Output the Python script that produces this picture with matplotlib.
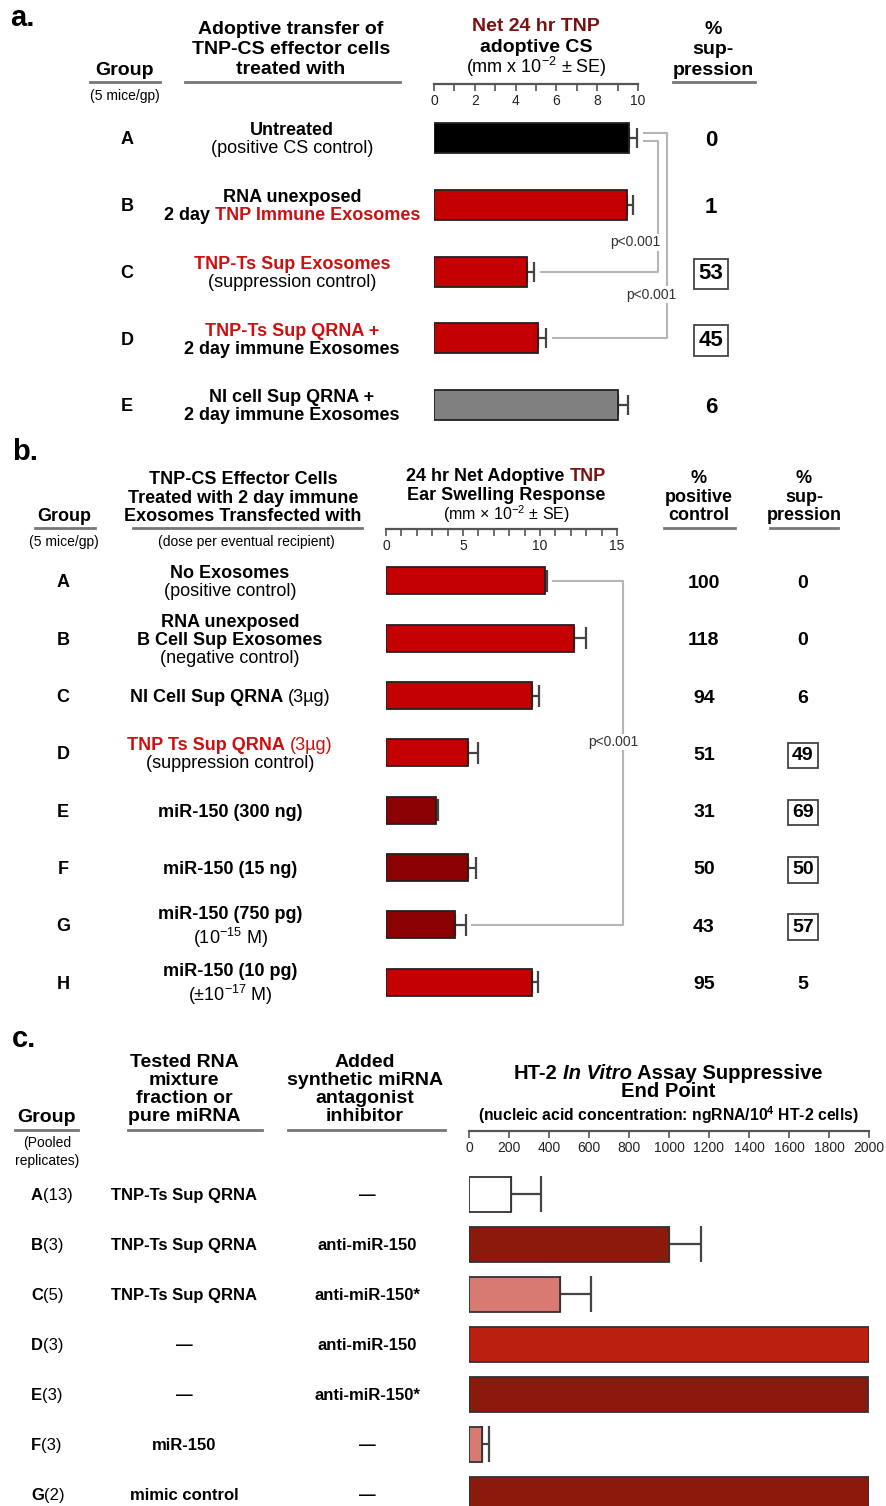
import matplotlib
matplotlib.use('Agg')
import matplotlib.pyplot as plt
from matplotlib.lines import Line2D

plt.rcParams['font.family'] = ['Liberation Sans', 'DejaVu Sans']
plt.rcParams['mathtext.fontset'] = 'custom'
plt.rcParams['mathtext.rm'] = 'Liberation Sans'
plt.rcParams['mathtext.it'] = 'Liberation Sans:italic'
plt.rcParams['mathtext.bf'] = 'Liberation Sans:bold'

# ---------------- data ----------------
a_groups = ['A', 'B', 'C', 'D', 'E']
a_values = [9.55, 9.45, 4.55, 5.1, 9.0]
a_errors = [0.4, 0.3, 0.35, 0.4, 0.5]
a_supp = ['0', '1', '53', '45', '6']
a_boxed = [False, False, True, True, False]
a_colors = ['#000000', '#c40000', '#c40000', '#c40000', '#808080']
a_ticks = [0, 2, 4, 6, 8, 10]
a_labels = [
    [[('Untreated', 'b')], [('(positive CS control)', 'n')]],
    [[('RNA unexposed', 'b')], [('2 day ', 'b'), ('TNP Immune Exosomes', 'rb')]],
    [[('TNP-Ts Sup Exosomes', 'rb')], [('(suppression control)', 'n')]],
    [[('TNP-Ts Sup QRNA +', 'rb')], [('2 day immune Exosomes', 'b')]],
    [[('NI cell Sup QRNA +', 'b')], [('2 day immune Exosomes', 'b')]],
]

b_groups = ['A', 'B', 'C', 'D', 'E', 'F', 'G', 'H']
b_values = [10.3, 12.2, 9.5, 5.3, 3.25, 5.3, 4.5, 9.5]
b_errors = [0.15, 0.8, 0.45, 0.65, 0.15, 0.55, 0.7, 0.4]
b_pos_ctrl = ['100', '118', '94', '51', '31', '50', '43', '95']
b_supp = ['0', '0', '6', '49', '69', '50', '57', '5']
b_boxed = [False, False, False, True, True, True, True, False]
b_colors = ['#c40000', '#c40000', '#c40000', '#c40000', '#8b0000', '#8b0000', '#8b0000', '#c40000']
b_ticks = [0, 5, 10, 15]
b_labels = [
    [[('No Exosomes', 'b')], [('(positive control)', 'n')]],
    [[('RNA unexposed', 'b')], [('B Cell Sup Exosomes', 'b')], [('(negative control)', 'n')]],
    [[('NI Cell Sup QRNA', 'b'), (' (3µg)', 'n')]],
    [[('TNP Ts Sup QRNA', 'rb'), (' (3µg)', 'rn')], [('(suppression control)', 'n')]],
    [[('miR-150 (300 ng)', 'b')]],
    [[('miR-150 (15 ng)', 'b')]],
    [[('miR-150 (750 pg)', 'b')], [('(10$^{\\mathregular{-15}}$ M)', 'n')]],
    [[('miR-150 (10 pg)', 'b')], [('(±10$^{\\mathregular{-17}}$ M)', 'n')]],
]

c_groups = ['A', 'B', 'C', 'D', 'E', 'F', 'G']
c_reps = ['(13)', '(3)', '(5)', '(3)', '(3)', '(3)', '(2)']
c_rna = ['TNP-Ts Sup QRNA', 'TNP-Ts Sup QRNA', 'TNP-Ts Sup QRNA', '—', '—', 'miR-150', 'mimic control']
c_inhib = ['—', 'anti-miR-150', 'anti-miR-150*', 'anti-miR-150', 'anti-miR-150*', '—', '—']
c_values = [210, 1000, 455, 2000, 1995, 65, 2000]
c_errors = [150, 160, 155, 0, 0, 35, 0]
c_colors = ['#ffffff', '#8c1a0c', '#d77b72', '#ba1f10', '#8c1a0c', '#d77b72', '#8c1a0c']
c_ticks = list(range(0, 2001, 200))

# ---------------- figure ----------------
W, H = 887, 1506
DPI = 100
fig = plt.figure(figsize=(W / DPI, H / DPI), dpi=DPI)
R = fig.canvas.get_renderer()

RED = '#cc1010'
DRED = '#7a1212'
GREY_LINE = '#777777'
BRACKET = '#b5b5b5'

STYLES = {
    'b': dict(weight='bold', color='black'),
    'n': dict(weight='normal', color='black'),
    'rb': dict(weight='bold', color=RED),
    'rn': dict(weight='normal', color=RED),
    'drb': dict(weight='bold', color=DRED),
    'bi': dict(weight='bold', style='italic', color='black'),
}


def fx(x):
    return x / W


def fy(y):
    return 1 - y / H


def rich(x, y, segs, size=13, ha='center'):
    """segs: list of (text, stylekey); y = visual centre of capitals (px from top)."""
    em = size * DPI / 72.0
    base = y + 0.358 * em
    arts, widths = [], []
    for s, st in segs:
        kw = STYLES[st]
        core = s.strip(' ')
        lead = len(s) - len(s.lstrip(' '))
        trail = len(s) - len(s.rstrip(' '))
        t = fig.text(0, 0, core, fontsize=size, va='baseline', ha='left', **kw)
        w = t.get_window_extent(renderer=R).width if core else 0
        arts.append((t, lead * 0.278 * em))
        widths.append(w + (lead + trail) * 0.278 * em)
    total = sum(widths)
    x0 = x - total / 2 if ha == 'center' else x
    for (t, lead), w in zip(arts, widths):
        t.set_position((fx(x0 + lead), fy(base)))
        x0 += w


def line_text(x, y, s, size=13, st='b', ha='center', box=False):
    em = size * DPI / 72.0
    kw = dict(STYLES[st])
    t = fig.text(fx(x), fy(y + 0.358 * em), s, fontsize=size, va='baseline', ha=ha, **kw)
    if box:
        t.set_bbox(dict(boxstyle='square,pad=0.22', facecolor='white', edgecolor='#444444', linewidth=1.3))
    return t


def hline(x0, x1, y, color=GREY_LINE, lw=2.0):
    fig.add_artist(Line2D([fx(x0), fx(x1)], [fy(y), fy(y)], color=color, lw=lw, transform=fig.transFigure))


def label_block(x, yc, lines, sp=18, size=13):
    n = len(lines)
    if any('$' in s for ln in lines for s, _ in ln):
        sp = 25
    for k, ln in enumerate(lines):
        rich(x, yc + (k - (n - 1) / 2) * sp, ln, size=size)


def bar_axes(x0, x1, xlim, row0, step, top, bottom):
    ax = fig.add_axes([fx(x0), fy(bottom), (x1 - x0) / W, (bottom - top) / H])
    ax.set_xlim(*xlim)
    ax.set_ylim((bottom - row0) / step, (top - row0) / step)
    ax.axis('off')
    return ax


def ruler(x0, x1, xlim, y, majors, minors, size=10):
    ax = fig.add_axes([fx(x0), fy(y), (x1 - x0) / W, 1.0 / H])
    ax.set_xlim(*xlim)
    for s in ['top', 'left', 'right']:
        ax.spines[s].set_visible(False)
    ax.spines['bottom'].set_linewidth(1.6)
    ax.spines['bottom'].set_color('#555555')
    ax.patch.set_visible(False)
    ax.set_yticks([])
    ax.set_xticks(majors)
    ax.set_xticklabels([str(v) for v in majors])
    ax.set_xticks(minors, minor=True)
    ax.tick_params(axis='x', which='both', direction='out', length=5, width=1.2,
                   color='#555555', labelsize=size, pad=2, labelcolor='#222222')
    return ax


def draw_bars(ax, values, errors, colors, height, capsize, edge='#222222'):
    ys = list(range(len(values)))
    ax.barh(ys, values, height=height, color=colors, edgecolor=edge, linewidth=1.3, zorder=2)
    idx = [i for i, e in enumerate(errors) if e > 0]
    ax.errorbar([values[i] for i in idx], idx,
                xerr=[[0] * len(idx), [errors[i] for i in idx]],
                fmt='none', ecolor='#444444', elinewidth=1.6, capsize=capsize, capthick=1.6, zorder=1)


# ======================= panel a =======================
fig.text(fx(10), fy(16 + 0.358 * 29), 'a.', fontsize=21, weight='bold', va='baseline')
HS = 14
line_text(125, 68, 'Group', size=HS)
hline(90, 160, 82)
line_text(125, 95, '(5 mice/gp)', size=10, st='n')
for k, s in enumerate(['Adoptive transfer of', 'TNP-CS effector cells', 'treated with']):
    line_text(291, 27 + k * 20, s, size=HS)
hline(185, 400, 82)
line_text(536, 24, 'Net 24 hr TNP', size=HS, st='drb')
line_text(536, 45, 'adoptive CS', size=HS)
line_text(536, 67, '(mm x 10$^{\\mathregular{-2}}$ ± SE)', size=13, st='n')
for k, s in enumerate(['%', 'sup-', 'pression']):
    line_text(713, 27 + k * 20.5, s, size=HS)
hline(673, 755, 82)

ruler(434, 638, (0, 10), 84, a_ticks, [1, 3, 5, 7, 9], size=10)

A_ROW0, A_STEP = 138, 66.75
ax_a = bar_axes(434, 638, (0, 10), A_ROW0, A_STEP, 105, 435)
draw_bars(ax_a, a_values, a_errors, a_colors, 30 / A_STEP, 7)

for i, g in enumerate(a_groups):
    yc = A_ROW0 + i * A_STEP
    line_text(127, yc, g, size=13)
    label_block(292, yc, a_labels[i])
    line_text(711, yc, a_supp[i], size=16, box=a_boxed[i])

# significance brackets (panel a)
gap = 0.35
xA = a_values[0] + a_errors[0] + gap
xo, xi = 11.4, 11.0
ax_a.plot([xA, xo, xo, a_values[3] + a_errors[3] + gap], [-0.075, -0.075, 3, 3],
          color=BRACKET, lw=1.5, clip_on=False, zorder=0)
ax_a.plot([xA, xi, xi, a_values[2] + a_errors[2] + gap], [0.045, 0.045, 2, 2],
          color=BRACKET, lw=1.5, clip_on=False, zorder=0)
ax_a.text(9.85, 1.56, 'p<0.001', fontsize=10, ha='center', va='center', color='#333333',
          bbox=dict(facecolor='white', edgecolor='none', pad=1), clip_on=False, zorder=3)
ax_a.text(10.64, 2.35, 'p<0.001', fontsize=10, ha='center', va='center', color='#333333',
          bbox=dict(facecolor='white', edgecolor='none', pad=1), clip_on=False, zorder=3)

# ======================= panel b =======================
HB = 13
fig.text(fx(12), fy(450 + 0.358 * 29), 'b.', fontsize=21, weight='bold', va='baseline')
line_text(64, 515, 'Group', size=HB)
hline(35, 95, 528)
line_text(64, 541, '(5 mice/gp)', size=10, st='n')
for k, s in enumerate(['TNP-CS Effector Cells', 'Treated with 2 day immune', 'Exosomes Transfected with']):
    line_text(243, 478 + k * 18.5, s, size=HB)
hline(133, 362, 528)
line_text(246, 541, '(dose per eventual recipient)', size=10, st='n')
rich(506, 475, [('24 hr Net Adoptive ', 'b'), ('TNP', 'drb')], size=HB)
line_text(506, 494, 'Ear Swelling Response', size=HB)
line_text(506, 514, '(mm × 10$^{\\mathregular{-2}}$ ± SE)', size=11.5, st='n')
for k, s in enumerate(['%', 'positive', 'control']):
    line_text(699, 477 + k * 18.5, s, size=HB)
hline(664, 735, 528)
for k, s in enumerate(['%', 'sup-', 'pression']):
    line_text(804, 477 + k * 18.5, s, size=HB)
hline(770, 838, 528)

ruler(386, 617, (0, 15), 529, b_ticks, [v for v in range(16) if v % 5], size=10)

B_ROW0, B_STEP = 581, 57.3
ax_b = bar_axes(386, 617, (0, 15), B_ROW0, B_STEP, 550, 1010)
draw_bars(ax_b, b_values, b_errors, b_colors, 27 / B_STEP, 8)

for i, g in enumerate(b_groups):
    yc = B_ROW0 + i * B_STEP
    line_text(63, yc, g, size=13)
    label_block(230, yc, b_labels[i])
    line_text(704, yc, b_pos_ctrl[i], size=14)
    line_text(803, yc, b_supp[i], size=14, box=b_boxed[i])

xs = b_values[0] + b_errors[0] + 0.4
xv = 15.4
ax_b.plot([xs, xv, xv, b_values[6] + b_errors[6] + 0.4], [0, 0, 6, 6],
          color=BRACKET, lw=1.5, clip_on=False, zorder=0)
ax_b.text(14.74, 2.81, 'p<0.001', fontsize=10, ha='center', va='center', color='#333333',
          bbox=dict(facecolor='white', edgecolor='none', pad=1), clip_on=False, zorder=3)

# ======================= panel c =======================
fig.text(fx(12), fy(1037 + 0.358 * 29), 'c.', fontsize=21, weight='bold', va='baseline')
line_text(47, 1115, 'Group', size=HS)
hline(15, 78, 1130)
line_text(47, 1142, '(Pooled', size=10, st='n')
line_text(47, 1160, 'replicates)', size=10, st='n')
for k, s in enumerate(['Tested RNA', 'mixture', 'fraction or', 'pure miRNA']):
    line_text(184, 1060 + k * 18, s, size=HS)
hline(128, 262, 1130)
for k, s in enumerate(['Added', 'synthetic miRNA', 'antagonist', 'inhibitor']):
    line_text(365, 1060 + k * 18, s, size=HS)
hline(288, 445, 1130)
rich(668, 1072, [('HT-2 ', 'b'), ('In Vitro', 'bi'), (' Assay Suppressive', 'b')], size=14.6)
line_text(668, 1090, 'End Point', size=14.6)
line_text(668, 1115, '(nucleic acid concentration: ngRNA/10$^{\\mathregular{4}}$ HT-2 cells)', size=11.3)

ruler(469, 869, (0, 2000), 1131, c_ticks, [], size=10)

C_ROW0, C_STEP = 1194, 50
ax_c = bar_axes(469, 869, (0, 2000), C_ROW0, C_STEP, 1160, 1506)
draw_bars(ax_c, c_values, c_errors, c_colors, 35 / C_STEP, 13, edge='#333333')

for i, g in enumerate(c_groups):
    yc = C_ROW0 + i * C_STEP
    rich(31, yc, [(g, 'b'), (c_reps[i], 'n')], size=12, ha='left')
    line_text(184, yc, c_rna[i], size=12)
    line_text(367, yc, c_inhib[i], size=12)

fig.savefig('out.png', dpi=DPI)
